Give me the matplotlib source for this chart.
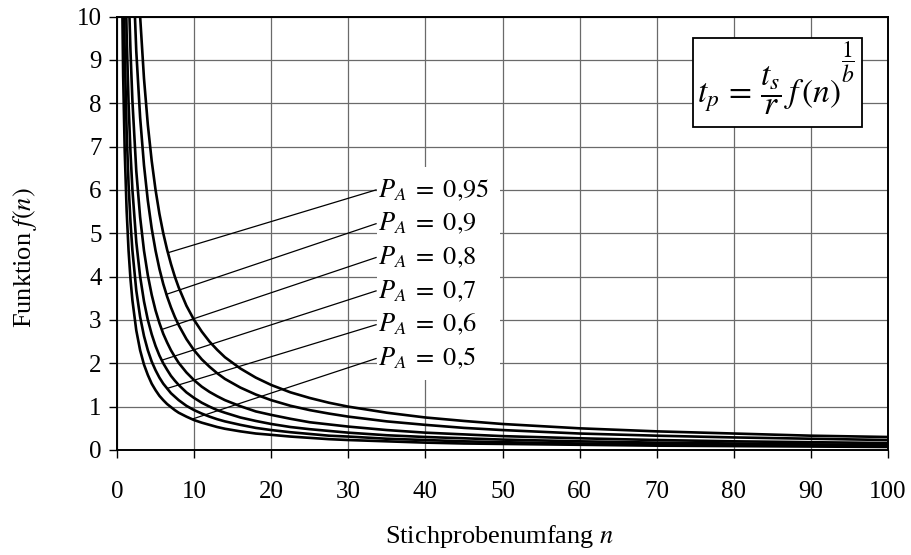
import matplotlib
matplotlib.use("Agg")
import matplotlib.pyplot as plt
from matplotlib.patches import Rectangle

plt.rcParams["font.family"] = "serif"
plt.rcParams["font.serif"] = ["Liberation Serif", "DejaVu Serif"]
plt.rcParams["mathtext.fontset"] = "stix"

# sample size n and the function f(n) for each confidence level P_A
n_values = [0.6, 0.8, 1, 1.25, 1.5, 1.75, 2, 2.5, 3, 3.5, 4, 4.5, 5, 5.5, 6,
            6.5, 7, 7.5, 8, 9, 10, 11, 12, 13, 14, 16, 18, 20, 22.5, 25, 27.5,
            30, 35, 40, 45, 50, 60, 70, 80, 90, 100]

f_095 = [50.0, 37.5, 30.0, 24.0, 20.0, 17.1, 15.0, 12.0, 10.0, 8.57, 7.5,
         6.67, 6.0, 5.45, 5.0, 4.62, 4.29, 4.0, 3.75, 3.33, 3.0, 2.73, 2.5,
         2.31, 2.14, 1.88, 1.67, 1.5, 1.33, 1.2, 1.09, 1.0, 0.86, 0.75, 0.67,
         0.6, 0.5, 0.43, 0.38, 0.33, 0.3]
f_090 = [38.3, 28.8, 23.0, 18.4, 15.3, 13.1, 11.5, 9.2, 7.67, 6.57, 5.75,
         5.11, 4.6, 4.18, 3.83, 3.54, 3.29, 3.07, 2.88, 2.56, 2.3, 2.09, 1.92,
         1.77, 1.64, 1.44, 1.28, 1.15, 1.02, 0.92, 0.84, 0.77, 0.66, 0.58,
         0.51, 0.46, 0.38, 0.33, 0.29, 0.26, 0.23]
f_080 = [26.8, 20.1, 16.1, 12.9, 10.7, 9.2, 8.05, 6.44, 5.37, 4.6, 4.03,
         3.58, 3.22, 2.93, 2.68, 2.48, 2.3, 2.15, 2.01, 1.79, 1.61, 1.46,
         1.34, 1.24, 1.15, 1.01, 0.89, 0.81, 0.72, 0.64, 0.59, 0.54, 0.46,
         0.40, 0.36, 0.32, 0.27, 0.23, 0.20, 0.18, 0.16]
f_070 = [20.0, 15.0, 12.0, 9.6, 8.0, 6.86, 6.0, 4.8, 4.0, 3.43, 3.0, 2.67,
         2.4, 2.18, 2.0, 1.85, 1.71, 1.6, 1.5, 1.33, 1.2, 1.09, 1.0, 0.92,
         0.86, 0.75, 0.67, 0.6, 0.53, 0.48, 0.44, 0.4, 0.34, 0.3, 0.27, 0.24,
         0.2, 0.17, 0.15, 0.13, 0.12]
f_060 = [15.3, 11.5, 9.2, 7.36, 6.13, 5.26, 4.6, 3.68, 3.07, 2.63, 2.3,
         2.04, 1.84, 1.67, 1.53, 1.42, 1.31, 1.23, 1.15, 1.02, 0.92, 0.84,
         0.77, 0.71, 0.66, 0.58, 0.51, 0.46, 0.41, 0.37, 0.33, 0.31, 0.26,
         0.23, 0.20, 0.18, 0.15, 0.13, 0.12, 0.10, 0.09]
f_050 = [11.5, 8.63, 6.9, 5.52, 4.6, 3.94, 3.45, 2.76, 2.3, 1.97, 1.73,
         1.53, 1.38, 1.25, 1.15, 1.06, 0.99, 0.92, 0.86, 0.77, 0.69, 0.63,
         0.58, 0.53, 0.49, 0.43, 0.38, 0.35, 0.31, 0.28, 0.25, 0.23, 0.20,
         0.17, 0.15, 0.14, 0.12, 0.10, 0.09, 0.08, 0.07]

curves = [f_095, f_090, f_080, f_070, f_060, f_050]
label_texts = ["0{,}95", "0{,}9", "0{,}8", "0{,}7", "0{,}6", "0{,}5"]

# leader lines: point on the curve and position of the label
anchor_n = [6.6, 6.4, 5.8, 5.8, 6.5, 9.7]
anchor_f = [4.55, 3.59, 2.78, 2.07, 1.42, 0.71]
label_n = 33.6
label_f = [6.0, 5.22, 4.44, 3.67, 2.89, 2.11]

x_ticks = list(range(0, 101, 10))
y_ticks = list(range(0, 11))

fig = plt.figure(figsize=(9.11, 5.55), dpi=100)
ax = fig.add_axes([117 / 911, 1 - 450 / 555, 771 / 911, 433.5 / 555])

ax.set_xlim(0, 100)
ax.set_ylim(0, 10)
ax.set_xticks(x_ticks)
ax.set_yticks(y_ticks)
ax.grid(True, color="#6a6a6a", linewidth=0.9, zorder=0)
ax.set_axisbelow(True)

for ys in curves:
    ax.plot(n_values, ys, color="black", linewidth=1.9, zorder=3,
            solid_capstyle="butt")

# white panel behind the curve labels
ax.add_patch(Rectangle((33.7, 1.62), 16.0, 4.9, facecolor="white",
                       edgecolor="none", zorder=2))

for an, af, lf, txt in zip(anchor_n, anchor_f, label_f, label_texts):
    ax.plot([an, label_n], [af, lf], color="black", linewidth=0.9, zorder=4)
    ax.text(label_n + 0.2, lf, r"$P_A\;=\;%s$" % txt, fontsize=19,
            ha="left", va="center", zorder=5)

# formula box
ax.add_patch(Rectangle((74.7, 7.45), 21.9, 2.05, facecolor="white",
                       edgecolor="black", linewidth=1.3, zorder=6))
main = ax.text(75.2, 8.3, r"$t_p\,=\,\dfrac{t_s}{r}\,f\,(n)$",
               fontsize=24, ha="left", va="center", zorder=7)
ax.annotate(r"$\dfrac{1}{b}$", xy=(1.0, 0.6), xycoords=main,
            xytext=(0, 0), textcoords="offset points",
            fontsize=17, ha="left", va="bottom", zorder=7)

for side in ["left", "right", "top", "bottom"]:
    ax.spines[side].set_linewidth(1.4)
    ax.spines[side].set_zorder(8)

ax.tick_params(axis="both", direction="out", length=6, width=1.0,
               labelsize=18, colors="black")
ax.tick_params(axis="x", pad=16)
ax.tick_params(axis="y", pad=5)

fig.text(500 / 911, 1 - 537 / 555, r"Stichprobenumfang $n$", fontsize=19,
         ha="center", va="center")
fig.text(25 / 911, 1 - 258 / 555, r"Funktion $f(n)$", fontsize=19,
         ha="center", va="center", rotation=90)

fig.savefig("out.png", dpi=100)
